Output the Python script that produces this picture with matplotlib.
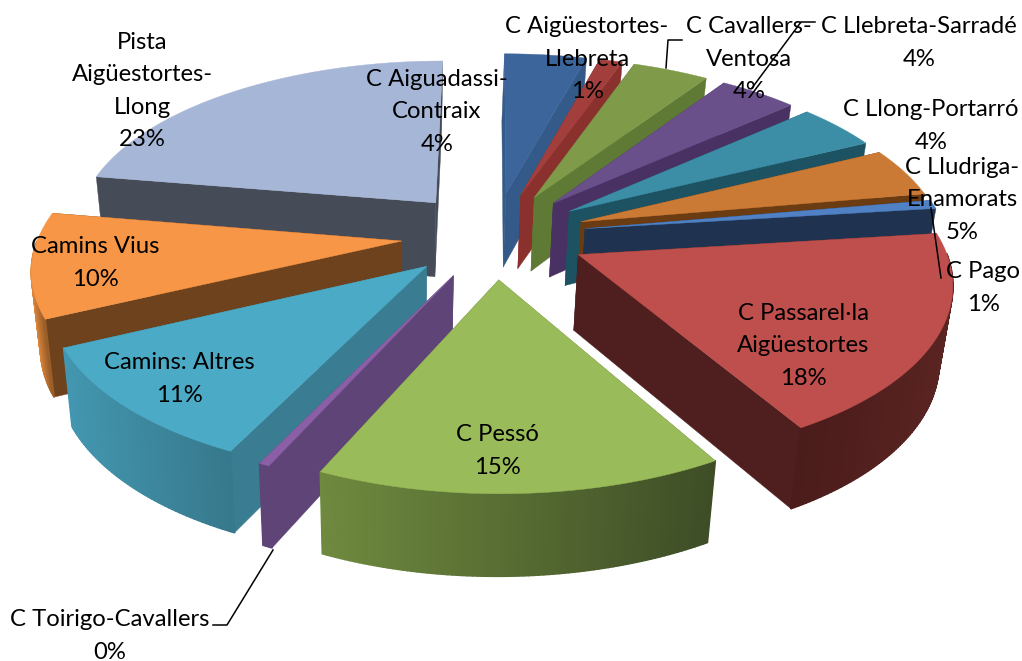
import numpy as np
import matplotlib
matplotlib.use("Agg")
import matplotlib.pyplot as plt
from matplotlib.collections import PolyCollection
from matplotlib.colors import to_rgb

names = ["C Aiguadassi-\nContraix", "C Aigüestortes-\nLlebreta", "C Cavallers-\nVentosa",
         "C Llebreta-Sarradé", "C Llong-Portarró", "C Lludriga-\nEnamorats", "C Pago",
         "C Passarel·la\nAigüestortes", "C Pessó", "C Toirigo-Cavallers",
         "Camins: Altres", "Camins Vius", "Pista\nAigüestortes-\nLlong"]
values = [4.3, 1.2, 4.0, 4.1, 4.3, 4.6, 0.8, 18.8, 15.3, 0.4, 10.9, 9.8, 22.6]
percent_labels = [4, 1, 4, 4, 4, 5, 1, 18, 15, 0, 11, 10, 23]

top_colors = ["#3B659B", "#A23F3C", "#7F9A48", "#69508A", "#3C8EA6", "#CB7A36", "#4F81C4",
              "#BE4F4C", "#9ABB59", "#8A5FA5", "#4BAAC6", "#F79646", "#A6B6D6"]
wall_colors = ["#335A88", "#8A302D", "#5F7A35", "#4A3163", "#1C5261", "#6B3C12", "#1F3350",
               "#4E1F1E", "#5F7A35", "#5F4478", "#3A7D92", "#6E421C", "#464B58"]
rim_left = ["#335A88", "#8A302D", "#5F7A35", "#4A3163", "#1C5261", "#6B3C12", "#1F3350",
            "#4A1C1A", "#6F8A3F", "#5F4478", "#4397B0", "#E68D3F", "#8A9BC0"]
rim_right = ["#335A88", "#8A302D", "#5F7A35", "#4A3163", "#1C5261", "#6B3C12", "#1F3350",
             "#5A2422", "#3E4D26", "#5F4478", "#37788C", "#6E421C", "#8A9BC0"]

CX, CY, A, B, K = 494.0, 235.0, 363.0, 170.0, 0.14
EXPLODE, START = 0.255, 0.0
VX, SHRINK = 400.0, 0.025


def project(u, v, low=False):
    u, v = np.asarray(u, float), np.asarray(v, float)
    w = 1 - K * v
    x = CX + A * u / w
    y = CY + B * v / w
    if low:
        x = VX + (x - VX) * (1 - SHRINK)
        y = y + 75.0 + 6.0 * v
    return x, y


def mix(c1, c2, t):
    return tuple((1 - t) * np.array(to_rgb(c1)) + t * np.array(to_rgb(c2)))


fig = plt.figure(figsize=(10.22, 6.61), dpi=100)
ax = fig.add_axes([0, 0, 1, 1])
ax.set_xlim(0, 1022)
ax.set_ylim(661, 0)
ax.axis("off")

fracs = np.array(values) / sum(values)
edges = np.radians(START + 360 * np.concatenate([[0], np.cumsum(fracs)]))
mids = (edges[:-1] + edges[1:]) / 2
slice_order = sorted(range(len(values)), key=lambda i: -np.cos(mids[i]))

for n, i in enumerate(slice_order):
    t = np.linspace(edges[i], edges[i + 1], max(4, int(np.degrees(edges[i + 1] - edges[i]) * 1.5)))
    ou, ov = EXPLODE * np.sin(mids[i]), -EXPLODE * np.cos(mids[i])
    u, v = ou + np.sin(t), ov - np.cos(t)
    xt, yt = project(u, v)
    xb, yb = project(u, v, low=True)
    ax0, ay0 = project(ou, ov)
    ax1, ay1 = project(ou, ov, low=True)
    faces = []
    for xa, ya, xc, yc, va in [(xt[0], yt[0], xb[0], yb[0], v[0]), (xt[-1], yt[-1], xb[-1], yb[-1], v[-1])]:
        faces.append(((ov + va) / 2, [(ax0, ay0), (xa, ya), (xc, yc), (ax1, ay1)], to_rgb(wall_colors[i]), 0.3))
    span = max(xt.max() - xt.min(), 1)
    for j in range(len(t) - 1):
        if (v[j] + v[j + 1]) / 2 < ov:
            continue
        f = ((xt[j] + xt[j + 1]) / 2 - xt.min()) / span
        faces.append(((v[j] + v[j + 1]) / 2,
                      [(xt[j], yt[j]), (xt[j + 1], yt[j + 1]), (xb[j + 1], yb[j + 1]), (xb[j], yb[j])],
                      mix(rim_left[i], rim_right[i], f), 1.2))
    faces.sort(key=lambda q: q[0])
    ax.add_collection(PolyCollection([q[1] for q in faces], facecolors=[q[2] for q in faces],
                                     edgecolors=[q[2] for q in faces],
                                     linewidths=[q[3] for q in faces], zorder=2 + n))
    ax.fill(np.r_[ax0, xt], np.r_[ay0, yt], color=top_colors[i], lw=0.3, zorder=2 + n + 0.5)

label_xy = [(437, 112), (587, 59), (749, 59), (919, 43), (931, 126), (962, 200), (983, 288),
            (803, 346), (497, 451), (110, 636), (179, 379), (95, 263), (142, 91)]
for (x, y), name, pct in zip(label_xy, names, percent_labels):
    ax.text(x, y, f"{name}\n{pct}%", ha="center", va="center", fontsize=17.2,
            family="Lato", color="black", linespacing=1.66, zorder=50)

leaders = [([682, 668, 666], [40, 40, 68]),
           ([815, 801, 752], [22, 22, 88]),
           ([941, 931], [278, 208]),
           ([213, 227, 273], [625, 625, 550])]
for lx, ly in leaders:
    ax.plot(lx, ly, color="black", lw=1.1, zorder=40)

fig.savefig("out.png", dpi=100)
